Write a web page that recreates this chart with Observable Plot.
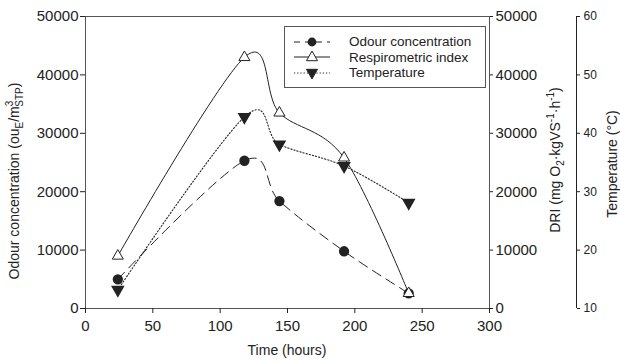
<!DOCTYPE html>
<html><head><meta charset="utf-8">
<script src="https://cdn.jsdelivr.net/npm/d3@7"></script>
<script src="https://cdn.jsdelivr.net/npm/@observablehq/plot@0.6"></script>
<style>
body{margin:0;background:#fff;font-family:"Liberation Sans",Arial,Helvetica,sans-serif;}
#wrap{position:relative;width:620px;height:363px;overflow:hidden;background:#fff}
#legend{position:absolute;left:284px;top:26px;width:202px;height:62px;border:1px solid #555;background:#fff;box-sizing:border-box;padding-top:7px}
.row{display:flex;align-items:center;height:15.5px;font-size:13.5px;color:#222}
.row svg{margin-left:8px;margin-right:18px}
</style></head><body><div id="wrap"></div>
<script>
// ---- data ----
const hours = [24, 118, 144, 192, 240];
const odour = [5000, 25300, 18400, 9800, 2600];          // ouE/m3STP
const dri = [9000, 43000, 33500, 25800, 2600];           // mg O2 kgVS-1 h-1
const temperature = [13.2, 42.8, 38.1, 34.4, 28.1];      // °C
const xTicks = [0, 50, 100, 150, 200, 250, 300];
const yTicks = [0, 10000, 20000, 30000, 40000, 50000];
const tempTicks = [10, 20, 30, 40, 50, 60];
const seriesNames = ["Odour concentration", "Respirometric index", "Temperature"];

const xDomain = [0, 300];
const yDomain = [0, 50000];
const tempDomain = [10, 60];
const tempToY = d3.scaleLinear(tempDomain, yDomain);

const odourData = hours.map((h, i) => ({h, v: odour[i]}));
const driData = hours.map((h, i) => ({h, v: dri[i]}));
const tempData = hours.map((h, i) => ({h, v: tempToY(temperature[i])}));

const ink = "#222";
const font = "'Liberation Sans', Arial, Helvetica, sans-serif";

const W = 620, H = 363;
const mL = 85, mR = 131, mT = 16, mB = 55;
const tempAxisOffset = 87;
const curve = "cardinal";

const svg = Plot.plot({
  width: W, height: H,
  marginLeft: mL, marginRight: mR, marginTop: mT, marginBottom: mB,
  style: {fontFamily: font, color: ink, background: "#fff", overflow: "visible"},
  x: {domain: xDomain},
  y: {domain: yDomain},
  marks: [
    Plot.frame({stroke: "#555"}),
    Plot.axisX({ticks: xTicks, tickSize: 5, tickPadding: 7, fontSize: 15, label: null, tickFormat: d => String(d)}),
    Plot.axisY({anchor: "left", ticks: yTicks, tickSize: 5, tickPadding: 2, fontSize: 15, label: null, tickFormat: d => String(d)}),
    Plot.axisY({anchor: "right", ticks: yTicks, tickSize: 3, tickPadding: 3, fontSize: 15, label: null, tickFormat: d => String(d)}),
    Plot.ruleX([xDomain[1]], {y1: yDomain[0], y2: yDomain[1], dx: tempAxisOffset, stroke: ink}),
    Plot.axisY(tempTicks.map(t => tempToY(t)), {anchor: "right", dx: tempAxisOffset, tickSize: 3, tickPadding: 4, fontSize: 12, label: null, tickFormat: d => String(Math.round(tempToY.invert(d)))}),
    Plot.line(odourData, {x: "h", y: "v", curve, stroke: ink, strokeWidth: 1, strokeDasharray: "10,6"}),
    Plot.line(driData, {x: "h", y: "v", curve, stroke: ink, strokeWidth: 1}),
    Plot.line(tempData, {x: "h", y: "v", curve, stroke: ink, strokeWidth: 1.1, strokeDasharray: "1.2,2"}),
    Plot.dot(odourData, {x: "h", y: "v", r: 4.4, fill: ink, stroke: ink, symbol: "circle"}),
    Plot.dot(driData, {x: "h", y: "v", r: 4.1, fill: "white", stroke: ink, strokeWidth: 1, symbol: "triangle"}),
    Plot.dot(tempData, {x: "h", y: "v", r: 4.1, fill: ink, stroke: ink, symbol: "triangle", rotate: 180})
  ]
});

const wrap = document.getElementById("wrap");
wrap.appendChild(svg);

// axis titles with sub/superscripts
const s = d3.select(svg);
const lab = s.append("g").attr("font-family", font).attr("fill", ink).attr("font-size", 14);

lab.append("text").attr("x", (mL + W - mR) / 2).attr("y", 355).attr("text-anchor", "middle").text("Time (hours)");

const t1 = lab.append("text").attr("transform", "translate(19,181) rotate(-90)").attr("text-anchor", "middle");
t1.append("tspan").text("Odour concentration (ou");
t1.append("tspan").attr("font-size", 10).attr("dy", 4).text("E");
t1.append("tspan").attr("dy", -4).text("/m");
t1.append("tspan").attr("font-size", 10).attr("dy", -6).text("3");
t1.append("tspan").attr("font-size", 10).attr("dx", -6).attr("dy", 10).text("STP");
t1.append("tspan").attr("dy", -4).text(")");

const t2 = lab.append("text").attr("transform", "translate(560,160) rotate(-90)").attr("text-anchor", "middle");
t2.append("tspan").text("DRI (mg O");
t2.append("tspan").attr("font-size", 10).attr("dy", 4).text("2");
t2.append("tspan").attr("dy", -4).text("·kgVS");
t2.append("tspan").attr("font-size", 10).attr("dy", -6).text("-1");
t2.append("tspan").attr("dy", 6).text("·h");
t2.append("tspan").attr("font-size", 10).attr("dy", -6).text("-1");
t2.append("tspan").attr("dy", 6).text(")");

lab.append("text").attr("transform", "translate(617,164) rotate(-90)").attr("text-anchor", "middle").text("Temperature (°C)");

// legend
const legend = d3.select(wrap).append("div").attr("id", "legend");
const styles = [
  {dash: "6,5", sym: "circle", fill: ink},
  {dash: null, sym: "triangle", fill: "white"},
  {dash: "1.2,2", sym: "tri-down", fill: ink}
];
seriesNames.forEach((name, i) => {
  const row = legend.append("div").attr("class", "row");
  const sv = row.append("svg").attr("width", 38).attr("height", 14);
  sv.append("line").attr("x1", 1).attr("x2", 37).attr("y1", 7).attr("y2", 7)
    .attr("stroke", ink).attr("stroke-dasharray", styles[i].dash);
  const st = styles[i];
  if (st.sym === "circle") sv.append("circle").attr("cx", 19).attr("cy", 7).attr("r", 4.4).attr("fill", ink);
  else {
    const sym = d3.symbol(d3.symbolTriangle, Math.PI * 4.1 * 4.1)();
    sv.append("path").attr("d", sym).attr("fill", st.fill).attr("stroke", ink)
      .attr("transform", `translate(19,${st.sym === "triangle" ? 7.5 : 6.5})${st.sym === "tri-down" ? " rotate(180)" : ""}`);
  }
  row.append("span").text(name);
});
</script>
</body></html>
